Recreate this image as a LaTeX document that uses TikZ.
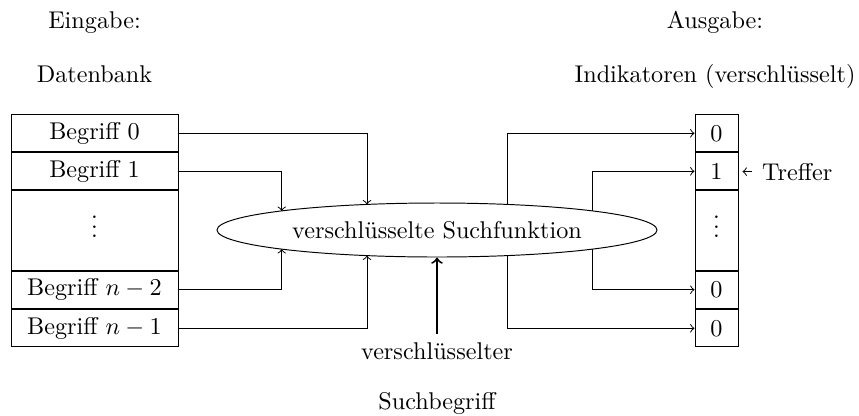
\documentclass[tikz,border=0pt]{standalone}
\usetikzlibrary{shapes.geometric}
% one drawing unit = \pxu
\newcommand\pxu{0.41322pt}
\tikzset{
  cell/.style={draw, inner sep=0pt, minimum height=37*\pxu},
  leftcell/.style={cell, minimum width=167*\pxu},
  rightcell/.style={cell, minimum width=43*\pxu},
  flow/.style={->},
  heading/.style={anchor=base, inner sep=0pt},
}
\begin{document}
\begin{tikzpicture}[x=0.41322pt, y=-0.41322pt]
\useasboundingbox (0,0) rectangle (859,415);

% headings
\node[heading] (inhead) at (94.5,28) {Eingabe:};
\node[heading] (intitle) at (94.5,82) {Datenbank};
\node[heading] (outhead) at (715,28) {Ausgabe:};
\node[heading] (outtitle) at (715,82) {Indikatoren (verschlüsselt)};

% database column
\node[leftcell] (b0) at (94.5,133.3) {Begriff 0};
\node[leftcell] (b1) at (94.5,171.3) {Begriff 1};
\node[leftcell, minimum height=80*\pxu] (bd) at (94.5,230.5) {\smash{\raisebox{-3pt}{$\vdots$}}};
\node[leftcell] (bn2) at (94.5,289.7) {Begriff $n-2$};
\node[leftcell] (bn1) at (94.5,328.3) {Begriff $n-1$};

% indicator column
\node[rightcell] (r0) at (716.5,133.3) {0};
\node[rightcell] (r1) at (716.5,171.3) {1};
\node[rightcell, minimum height=80*\pxu] (rd) at (716.5,230.5) {\smash{\raisebox{-3pt}{$\vdots$}}};
\node[rightcell] (rn2) at (716.5,289.7) {0};
\node[rightcell] (rn1) at (716.5,328.3) {0};

% search function (radii 220 x 27 units)
\node[ellipse, draw, inner sep=0pt, minimum width=440*\pxu, minimum height=54*\pxu]
  (f) at (437,230) {verschlüsselte Suchfunktion};

% inputs, ending on the ellipse border
\draw[flow] (b0.east) -| ([shift={(-70,-25.6)}]f.center);
\draw[flow] (b1.east) -| ([shift={(-155.3,-19.1)}]f.center);
\draw[flow] (bn2.east) -| ([shift={(-155.3,19.1)}]f.center);
\draw[flow] (bn1.east) -| ([shift={(-70,25.6)}]f.center);

% outputs, starting on the ellipse border
\draw[flow] ([shift={(70,-25.6)}]f.center) |- (r0.west);
\draw[flow] ([shift={(155.3,-19.1)}]f.center) |- (r1.west);
\draw[flow] ([shift={(155.3,19.1)}]f.center) |- (rn2.west);
\draw[flow] ([shift={(70,25.6)}]f.center) |- (rn1.west);

% hit marker
\node[anchor=base west, inner xsep=10*\pxu] (hit) at (751.7,180) {Treffer};
\draw[->, shorten >=4*\pxu] (hit.west) -- (hit.west -| r1.east);

% encrypted search term
\node[anchor=base] (q1) at (437,359) {verschlüsselter};
\node[heading] (q2) at (437,409) {Suchbegriff};
\draw[->, thick] (q1.north) -- (f.south);
\end{tikzpicture}
\end{document}
